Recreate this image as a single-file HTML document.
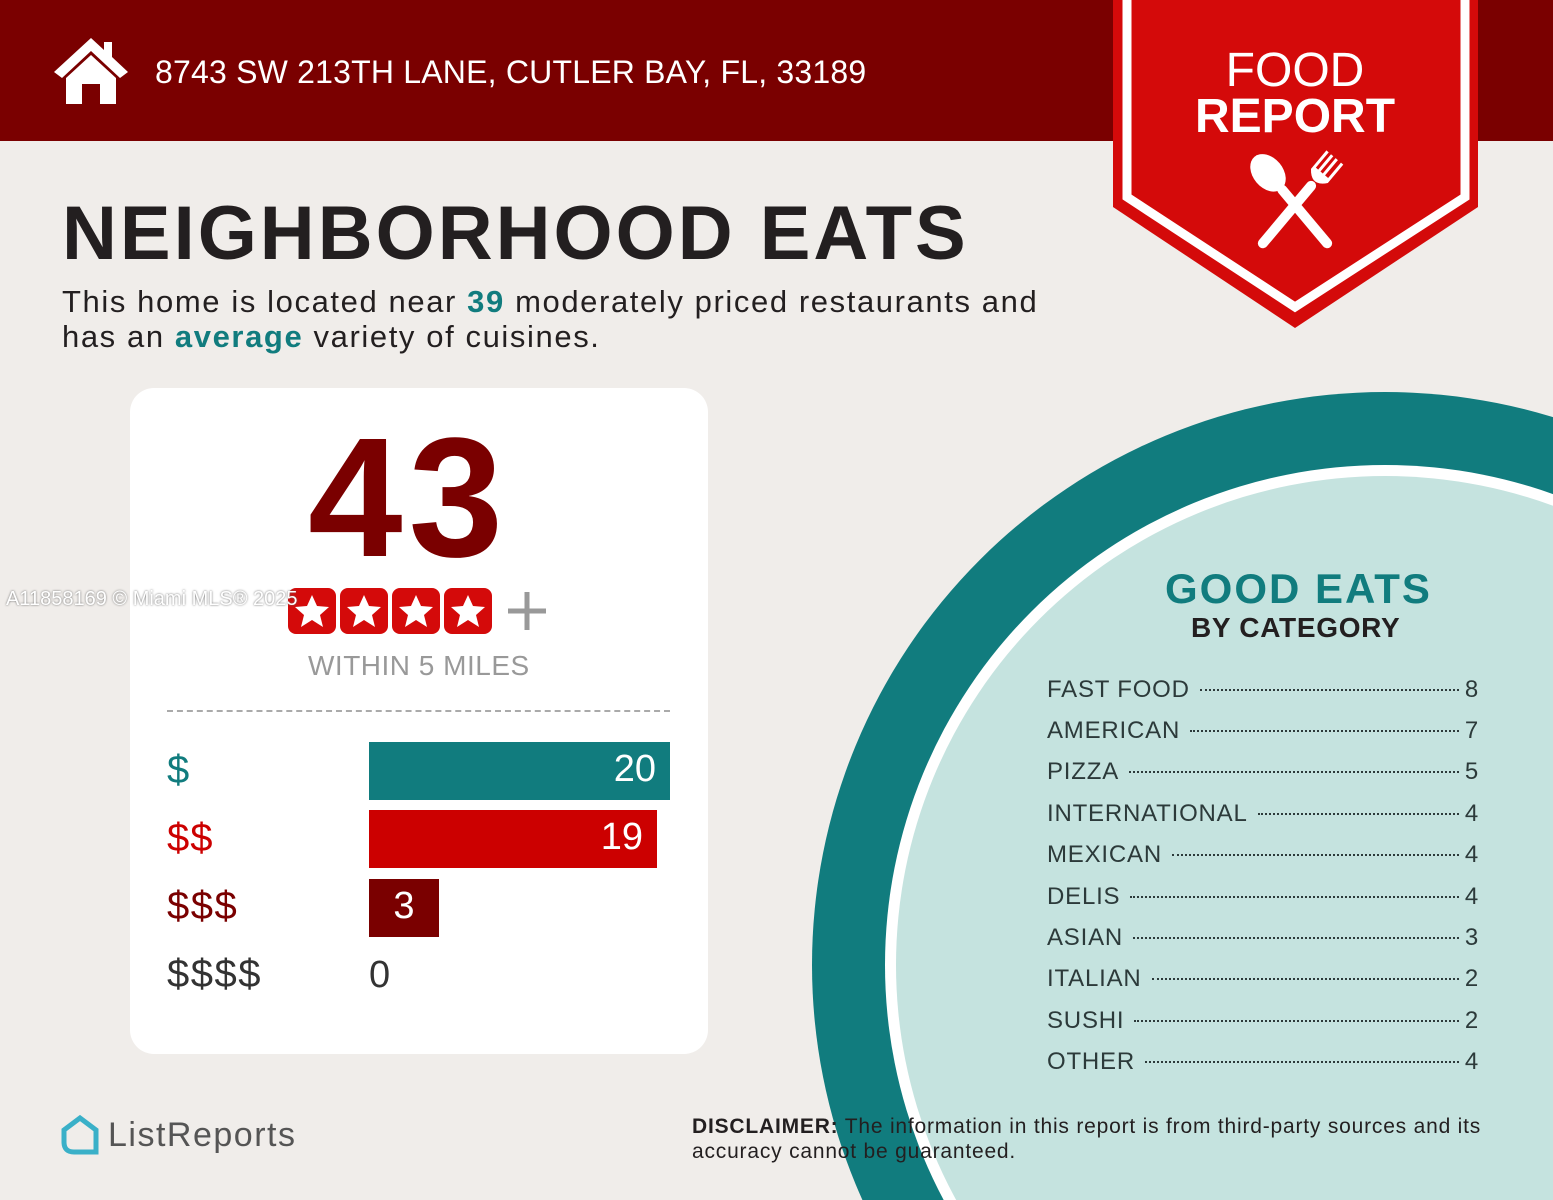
<!DOCTYPE html>
<html><head><meta charset="utf-8"><style>
*{margin:0;padding:0;box-sizing:border-box}
html,body{width:1553px;height:1200px;overflow:hidden}
body{background:#f0edea;font-family:"Liberation Sans",sans-serif;position:relative}
.a{position:absolute;white-space:nowrap}
.row{position:absolute;left:1047px;width:432px;height:30px;font-size:24px;color:#2c3a3a;display:flex;align-items:baseline;letter-spacing:0.8px}
.row .d{flex:1;border-bottom:2px dotted #2c3a3a;margin:0 6px 0 10px;height:1px;transform:translateY(-6px)}
</style></head><body>
<div class="a" style="left:0;top:0;width:1553px;height:141px;background:#7a0000"></div>
<svg class="a" style="left:52px;top:34px" width="78" height="72" viewBox="0 0 78 72"><path d="M39 4 L2 38 L10 44 L39 17 L68 44 L76 38 L60 23 L60 8 L52 8 L52 16 Z" fill="#fff"/><path d="M14 44 L39 21 L64 44 L64 70 L48 70 L48 50 L30 50 L30 70 L14 70 Z" fill="#fff"/></svg>
<div class="a" style="left:155px;top:54px;font-size:32px;color:#fff;letter-spacing:0.2px">8743 SW 213TH LANE, CUTLER BAY, FL, 33189</div>
<svg class="a" style="left:0;top:0" width="1553" height="1200">
<circle cx="1385" cy="965" r="573" fill="#117c7e"/>
<circle cx="1385" cy="965" r="500" fill="#fff"/>
<circle cx="1385" cy="965" r="489" fill="#c5e3df"/>
<path d="M1113 0 L1478 0 L1478 207 L1295 328 L1113 207 Z" fill="#d40a0a"/>
<path d="M1127 0 L1127 197 L1295 307 L1465 197 L1465 0" fill="none" stroke="#fff" stroke-width="9"/>
<g transform="translate(1295,205)" fill="#fff">
<g transform="rotate(-40)"><ellipse cx="0" cy="-42" rx="15" ry="21"/><rect x="-5" y="-25" width="10" height="80" rx="5"/></g>
<g transform="rotate(40)"><rect x="-5" y="-30" width="10" height="85" rx="5"/><path d="M-11 -62 L-11 -38 Q0 -24 11 -38 L11 -62 L8 -62 L8 -42 L4 -42 L4 -62 L1 -62 L1 -42 L-2 -42 L-2 -62 L-5 -62 L-5 -42 L-8 -42 L-8 -62 Z"/></g>
</g>
</svg>
<div class="a" style="left:1195px;top:48px;width:200px;text-align:center;color:#fff;font-size:48px;line-height:46px">FOOD<br><b style="font-weight:bold">REPORT</b></div>
<div class="a" style="left:62px;top:190px;font-size:76px;font-weight:bold;color:#231f20;letter-spacing:3px">NEIGHBORHOOD EATS</div>
<div class="a" style="left:62px;top:284px;font-size:31px;color:#231f20;line-height:35px;letter-spacing:1.6px">This home is located near <b style="color:#117c7e">39</b> moderately priced restaurants and<br>has an <b style="color:#117c7e">average</b> variety of cuisines.</div>
<div class="a" style="left:130px;top:388px;width:578px;height:666px;background:#fff;border-radius:24px"></div>
<div class="a" style="left:308px;top:400px;font-size:170px;font-weight:bold;color:#7a0000;letter-spacing:6px">43</div>
<svg class="a" style="left:288px;top:586px" width="260" height="50">
<g fill="#d40a0a"><rect x="0" y="2" width="48" height="46" rx="8"/><rect x="52" y="2" width="48" height="46" rx="8"/><rect x="104" y="2" width="48" height="46" rx="8"/><rect x="156" y="2" width="48" height="46" rx="8"/></g>
<g fill="#fff"><path id="s" d="M24 9 L29 20 L41 21 L32 29 L35 41 L24 34 L13 41 L16 29 L7 21 L19 20 Z"/><use href="#s" x="52"/><use href="#s" x="104"/><use href="#s" x="156"/></g>
<path d="M239 6 V44 M220 25 H258" stroke="#999" stroke-width="5"/>
</svg>
<div class="a" style="left:6px;top:588px;font-size:20px;color:#fff;text-shadow:0 0 2px #666">A11858169 © Miami MLS® 2025</div>
<div class="a" style="left:308px;top:650px;font-size:28px;color:#999;letter-spacing:0.5px">WITHIN 5 MILES</div>
<div class="a" style="left:167px;top:710px;width:503px;border-top:2px dashed #aaa"></div>
<div class="a" style="left:167px;top:748px;font-size:40px;color:#117c7e">$</div>
<div class="a" style="left:167px;top:816px;font-size:40px;color:#c00;letter-spacing:1px">$$</div>
<div class="a" style="left:167px;top:884px;font-size:40px;color:#7a0000;letter-spacing:1.5px">$$$</div>
<div class="a" style="left:167px;top:952px;font-size:40px;color:#333;letter-spacing:1.5px">$$$$</div>
<div class="a" style="left:369px;top:742px;width:301px;height:58px;background:#117c7e;color:#fff;font-size:38px;text-align:right;padding:6px 14px 0 0">20</div>
<div class="a" style="left:369px;top:810px;width:288px;height:58px;background:#c00;color:#fff;font-size:38px;text-align:right;padding:6px 14px 0 0">19</div>
<div class="a" style="left:369px;top:879px;width:70px;height:58px;background:#7a0000;color:#fff;font-size:38px;text-align:center;padding-top:6px">3</div>
<div class="a" style="left:369px;top:954px;font-size:38px;color:#333">0</div>
<div class="a" style="left:1165px;top:565px;font-size:42px;font-weight:bold;color:#117c7e;letter-spacing:2px">GOOD EATS</div>
<div class="a" style="left:1191px;top:612px;font-size:28px;font-weight:bold;color:#231f20;letter-spacing:0.7px">BY CATEGORY</div>
<div class="row" style="top:676px">FAST FOOD<span class="d"></span>8</div>
<div class="row" style="top:717px">AMERICAN<span class="d"></span>7</div>
<div class="row" style="top:758px">PIZZA<span class="d"></span>5</div>
<div class="row" style="top:800px">INTERNATIONAL<span class="d"></span>4</div>
<div class="row" style="top:841px">MEXICAN<span class="d"></span>4</div>
<div class="row" style="top:883px">DELIS<span class="d"></span>4</div>
<div class="row" style="top:924px">ASIAN<span class="d"></span>3</div>
<div class="row" style="top:965px">ITALIAN<span class="d"></span>2</div>
<div class="row" style="top:1007px">SUSHI<span class="d"></span>2</div>
<div class="row" style="top:1048px">OTHER<span class="d"></span>4</div>
<svg class="a" style="left:60px;top:1114px" width="40" height="42"><path d="M4 16 L20 4 L36 16 L36 38 L14 38 Q4 38 4 28 Z" fill="none" stroke="#3ab0c8" stroke-width="5"/></svg>
<div class="a" style="left:108px;top:1116px;font-size:34px;color:#555;letter-spacing:1.5px">ListReports</div>
<div class="a" style="left:692px;top:1114px;font-size:21px;color:#231f20;line-height:25px;letter-spacing:0.8px"><b>DISCLAIMER:</b> The information in this report is from third-party sources and its<br>accuracy cannot be guaranteed.</div>
</body></html>
